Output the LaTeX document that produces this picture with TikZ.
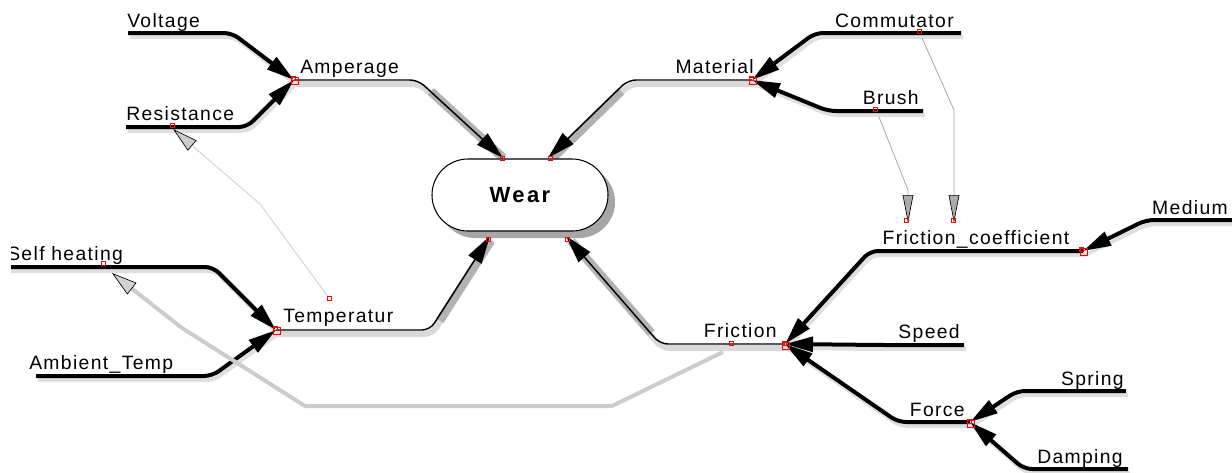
\documentclass[tikz,border=0pt]{standalone}
\usepackage{fontspec}
\setmainfont{Liberation Sans}[LetterSpace=7]
\usetikzlibrary{arrows.meta,calc}
\begin{document}
\begin{tikzpicture}[x=0.75pt,y=-0.75pt,
  lbl/.style={inner sep=0pt,font=\fontsize{14.5}{17}\selectfont},
  pline/.style={line width=3pt,black,rounded corners=6pt,-{Triangle[length=21pt,width=11pt]}},
  pshadow/.style={line width=3pt,gray!25,rounded corners=6pt},
  wline/.style={line width=1.1pt,black,rounded corners=6pt,-{Triangle[length=21pt,width=11.5pt]}},
  wshadow/.style={line width=4.5pt,gray!30,rounded corners=6pt},
  wdshadow/.style={line width=6.5pt,gray!60},
  thinc/.style={line width=0.6pt,gray!70,-{Triangle[length=21pt,width=8pt,fill=gray!65,color=black,line width=0.5pt]}},
  thinl/.style={line width=0.6pt,gray!40,-{Triangle[length=19pt,width=10pt,fill=gray!40,color=black,line width=0.5pt]}},
  thickg/.style={line width=3pt,gray!40,-{Triangle[length=19pt,width=11pt,fill=gray!35,color=black,line width=0.5pt]}},
  mk/.style={draw=red,line width=0.5pt},
  wearbox/.style={draw=black,line width=0.8pt,fill=white,rounded corners=27pt,minimum width=132pt,minimum height=54pt,inner sep=0pt,
    font=\fontsize{16.5}{19}\selectfont\bfseries\addfontfeature{LetterSpace=11}}
]
\useasboundingbox (0,0) rectangle (1232,472);
\clip (11,0) rectangle (1232,472);

\newcommand\pconn[3]{%
  \draw[pshadow] ([xshift=1.5pt,yshift=-3pt]#1) -- ([xshift=1.5pt,yshift=-3pt]#2) -- ([xshift=1.5pt,yshift=-3pt]#3);
  \draw[pline] (#1) -- (#2) -- (#3);}
\newcommand\wconn[3]{%
  \draw[wshadow] ([xshift=1.5pt,yshift=-3pt]#1) -- ([xshift=1.5pt,yshift=-3pt]#2) -- ([xshift=1.5pt,yshift=-3pt]#3);
  \draw[wdshadow] ([xshift=2pt,yshift=-1.5pt]$(#2)!0.12!(#3)$) -- ([xshift=2pt,yshift=-1.5pt]$(#2)!0.97!(#3)$);
  \draw[wline] (#1) -- (#2) -- (#3);}

% junctions
\coordinate (amp) at (294,80);
\coordinate (mat) at (752,80);
\coordinate (tmp) at (276,330);
\coordinate (fri) at (785,344);
\coordinate (frc) at (1083,251);
\coordinate (frs) at (970,422);

% start / corner points
\coordinate (vS) at (128,33);   \coordinate (vC) at (232,33);
\coordinate (rS) at (126,127);  \coordinate (rC) at (247,127);
\coordinate (cS) at (961,33);   \coordinate (cC) at (815,33);
\coordinate (bS) at (923,111);  \coordinate (bC) at (828,111);
\coordinate (mS) at (1232,220); \coordinate (mC) at (1146,220);
\coordinate (fcC) at (870,251);
\coordinate (sS) at (964,345);  \coordinate (sC) at (880,345);
\coordinate (foC) at (898,422);
\coordinate (spS) at (1126,391); \coordinate (spC) at (1017,391);
\coordinate (dS) at (1128,469); \coordinate (dC) at (1024,469);
\coordinate (shS) at (5,267);   \coordinate (shC) at (213,267);
\coordinate (atS) at (36,376);  \coordinate (atC) at (212,376);

\coordinate (aC) at (418,80);  \coordinate (wA) at (503,158);
\coordinate (mC2) at (628,80); \coordinate (wB) at (548,158);
\coordinate (tC) at (430,330); \coordinate (wC) at (490,236);
\coordinate (fC) at (660,344); \coordinate (wD) at (566,236);

% primary connectors
\pconn{vS}{vC}{amp}
\pconn{rS}{rC}{amp}
\pconn{cS}{cC}{mat}
\pconn{bS}{bC}{mat}
\pconn{mS}{mC}{frc}
\pconn{frc}{fcC}{fri}
\pconn{sS}{sC}{fri}
\pconn{frs}{foC}{fri}
\pconn{spS}{spC}{frs}
\pconn{dS}{dC}{frs}
\pconn{shS}{shC}{tmp}
\pconn{atS}{atC}{tmp}

% connectors into Wear
\wconn{amp}{aC}{wA}
\wconn{mat}{mC2}{wB}
\wconn{tmp}{tC}{wC}
\wconn{fri}{fC}{wD}

% Wear node with shadow
\fill[gray!70,rounded corners=27pt] (439,166) rectangle (615,238);
\node[wearbox] (wear) at (520,195) {Wear};

% gray influence connectors
\coordinate (g1a) at (922,38);  \coordinate (g1b) at (954,110); \coordinate (g1c) at (954,223);
\coordinate (g2a) at (879,117); \coordinate (g2b) at (908,190); \coordinate (g2c) at (908,223);
\coordinate (g3a) at (329,298); \coordinate (g3b) at (260,204); \coordinate (g3c) at (173,129);
\coordinate (g4a) at (723,352); \coordinate (g4b) at (612,406); \coordinate (g4c) at (305,406);
\coordinate (g4d) at (182,328); \coordinate (g4e) at (112,273);
\draw[thinc] (g1a) -- (g1b) -- (g1c);
\draw[thinc] (g2a) -- (g2b) -- (g2c);
\draw[thinl] (g3a) -- (g3b) -- (g3c);
\draw[thickg] (g4a) -- (g4b) -- (g4c) -- (g4d) -- (g4e);

% labels
\node[lbl,anchor=base west] (voltage) at (127,27) {Voltage};
\node[lbl,anchor=base west] (amperage) at (300,73) {Amperage};
\node[lbl,anchor=base west] (resistance) at (126,120) {Resistance};
\node[lbl,anchor=base east] (commutator) at (954,27) {Commutator};
\node[lbl,anchor=base east] (material) at (754,73) {Material};
\node[lbl,anchor=base east] (brush) at (919,104) {Brush};
\node[lbl,anchor=base east] (medium) at (1228,214) {Medium};
\node[lbl,anchor=base] (fricoef) at (976,244) {Friction\_coefficient};
\node[lbl,anchor=base east] (friction) at (777,337) {Friction};
\node[lbl,anchor=base east] (speed) at (960,338) {Speed};
\node[lbl,anchor=base east] (force) at (965,416) {Force};
\node[lbl,anchor=base east] (spring) at (1124,385) {Spring};
\node[lbl,anchor=base east] (damping) at (1123,463) {Damping};
\node[lbl,anchor=base west] (selfheat) at (7,260) {Self heating};
\node[lbl,anchor=base west] (ambient) at (29,369) {Ambient\_Temp};
\node[lbl,anchor=base west] (temperatur) at (283,322) {Temperatur};

% red markers
\foreach \p in {(295,81),(753,81),(1084,252),(786,346),(971,424),(277,331)}
  \draw[mk] \p ++(-3.5,-3.5) rectangle ++(7,7);
\foreach \p in {(172,125),(919,31),(875,109),(906,220),(953,220),(329,298),(103,263),(731,343),
                (502,158),(550,158),(488,239),(567,239),(293,78),(751,78),(1081,249),(784,343),(969,421),(275,328)}
  \draw[mk] \p ++(-2,-2) rectangle ++(4,4);
\end{tikzpicture}
\end{document}
